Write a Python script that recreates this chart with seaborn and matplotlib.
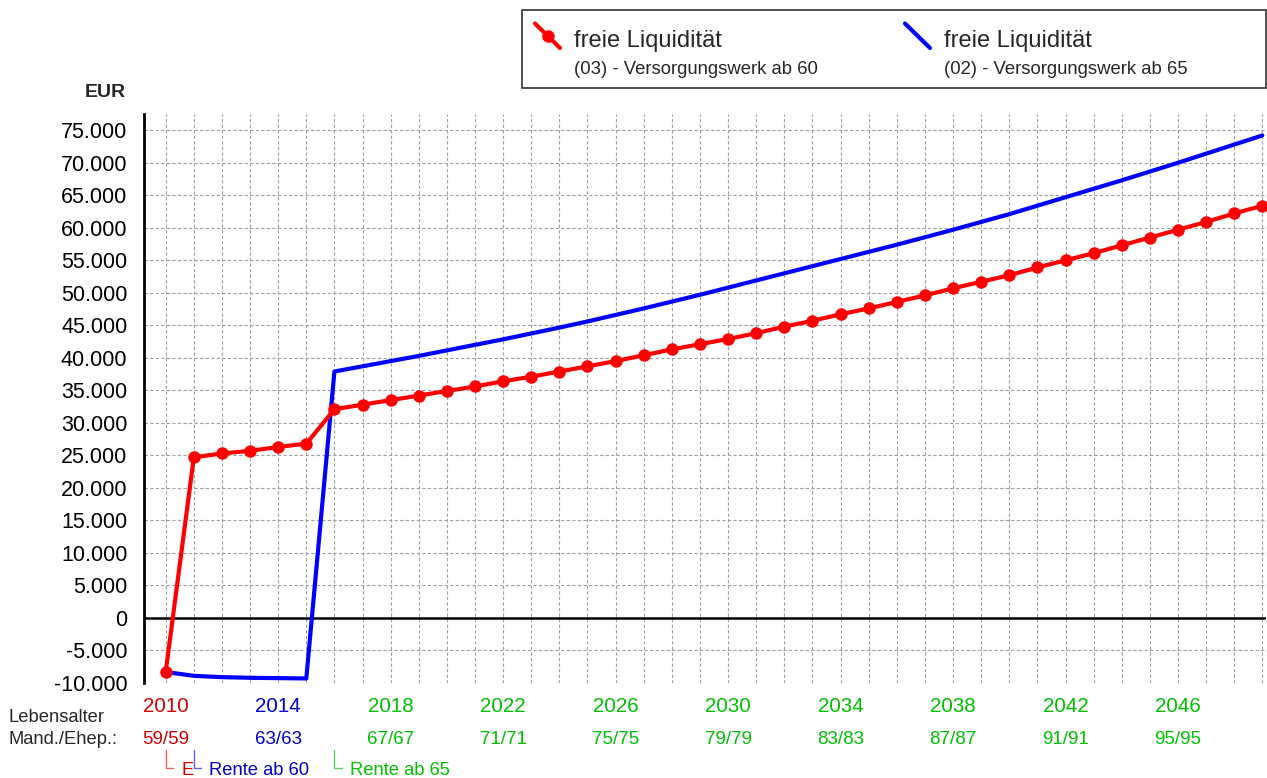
import numpy as np
import pandas as pd
import seaborn as sns
import matplotlib.pyplot as plt
from matplotlib.lines import Line2D
from matplotlib.patches import Rectangle
from matplotlib.ticker import FuncFormatter
from matplotlib import transforms

# --- data ---
years = list(range(2010, 2050))

# (03) - Versorgungswerk ab 60 (red, with markers)
red_values = [-8300, 24700, 25300, 25700, 26300, 26800, 32100, 32800, 33500, 34200,
              34900, 35600, 36400, 37100, 37900, 38700, 39500, 40400, 41300, 42100,
              42900, 43800, 44800, 45700, 46700, 47600, 48600, 49600, 50700, 51700,
              52700, 53900, 55000, 56100, 57300, 58500, 59700, 60900, 62200, 63400]

# (02) - Versorgungswerk ab 65 (blue)
blue_values = [-8300, -8900, -9100, -9200, -9250, -9300, 37900, 38700, 39500, 40300,
               41150, 42000, 42850, 43750, 44650, 45600, 46600, 47600, 48650, 49700,
               50800, 51900, 53000, 54100, 55200, 56300, 57400, 58550, 59700, 60900,
               62100, 63400, 64700, 66000, 67300, 68650, 70000, 71400, 72800, 74200]

label_years = [2010, 2014, 2018, 2022, 2026, 2030, 2034, 2038, 2042, 2046]
age_labels = ["59/59", "63/63", "67/67", "71/71", "75/75", "79/79", "83/83", "87/87", "91/91", "95/95"]
label_colors = ["#D00000", "#0000CC"] + ["#00C000"] * 8

event_years = [2010, 2011, 2016]
event_texts = ["E", "Rente ab 60", "Rente ab 65"]
event_colors = ["#D00000", "#0000CC", "#00C000"]
bracket_colors = ["#E06060", "#6060F0", "#60D060"]

series_names = ["freie Liquidität", "freie Liquidität"]
series_subtitles = ["(03) - Versorgungswerk ab 60", "(02) - Versorgungswerk ab 65"]

df = pd.DataFrame({"Jahr": years, "rot": red_values, "blau": blue_values})

# --- style ---
sns.set_theme(style="white")
plt.rcParams["font.family"] = ["Liberation Sans", "DejaVu Sans"]

W, H = 1267, 778
fig = plt.figure(figsize=(W / 100, H / 100), dpi=100)


def fx(x):
    return x / W


def fy(y):
    return 1 - y / H


ax = fig.add_axes([fx(144), fy(683), fx(1266 - 144), (683 - 114) / H])

# lines
sns.lineplot(data=df, x="Jahr", y="blau", ax=ax, color="#0000FF", linewidth=3.0,
             legend=False, zorder=4)
sns.lineplot(data=df, x="Jahr", y="rot", ax=ax, color="#FF0000", linewidth=3.0,
             marker="o", markersize=9, markeredgewidth=0, legend=False, zorder=5)

ax.set_xlim(2009.228, 2049.13)
ax.set_ylim(-10000, 77500)

# grid
ax.set_xticks(years)
ax.set_yticks(np.arange(-10000, 75001, 5000))
ax.grid(True, color="#A0A0A0", linestyle=(0, (3, 2)), linewidth=0.8)
ax.axhline(0, color="black", linewidth=1.8, zorder=3)

for side in ["top", "right", "bottom"]:
    ax.spines[side].set_visible(False)
ax.spines["left"].set_color("black")
ax.spines["left"].set_linewidth(2.0)
ax.spines["left"].set_zorder(6)

ax.yaxis.set_major_formatter(FuncFormatter(lambda v, p: f"{v:,.0f}".replace(",", ".")))
ax.tick_params(axis="y", length=0, pad=12, labelsize=15.5, labelcolor="black")
ax.tick_params(axis="x", length=0, labelbottom=False)
ax.set_xlabel("")
ax.set_ylabel("")

fig.text(fx(126), fy(97.3), "EUR", ha="right", va="baseline", fontsize=14, fontweight="bold")

# bottom year / age labels
trans = transforms.blended_transform_factory(ax.transData, fig.transFigure)
for yr, age, col in zip(label_years, age_labels, label_colors):
    ax.text(yr, fy(711.7), str(yr), transform=trans, ha="center", va="baseline",
            fontsize=14.8, color=col)
    ax.text(yr, fy(744.3), age, transform=trans, ha="center", va="baseline",
            fontsize=13.5, color=col)

fig.text(fx(8), fy(722.3), "Lebensalter", ha="left", va="baseline", fontsize=13.2)
fig.text(fx(8), fy(744.3), "Mand./Ehep.:", ha="left", va="baseline", fontsize=13.2)

# event markers below the axis
for yr, txt, col, bcol in zip(event_years, event_texts, event_colors, bracket_colors):
    ax.add_line(Line2D([yr, yr, yr + 0.27], [fy(750), fy(768.3), fy(768.3)],
                       transform=trans, color=bcol, linewidth=1.0, clip_on=False))
    ax.text(yr + 0.55, fy(775), txt, transform=trans, ha="left", va="baseline",
            fontsize=13.2, color=col)

# legend box
fig.patches.append(Rectangle((fx(521.5), fy(88)), fx(1266 - 521.5), (88 - 10) / H,
                             transform=fig.transFigure, facecolor="white",
                             edgecolor="#333333", linewidth=1.2))
icons = [(535, "#FF0000", True), (905, "#0000FF", False)]
for (x0, col, has_marker), name, sub in zip(icons, series_names, series_subtitles):
    fig.add_artist(Line2D([fx(x0), fx(x0 + 25)], [fy(23.5), fy(48)],
                          transform=fig.transFigure, color=col, linewidth=3.0))
    if has_marker:
        fig.add_artist(Line2D([fx(x0 + 13)], [fy(35.5)], transform=fig.transFigure,
                              color=col, marker="o", markersize=9, markeredgewidth=0))
    fig.text(fx(x0 + 39.5), fy(46.7), name, ha="left", va="baseline", fontsize=17)
    fig.text(fx(x0 + 39.5), fy(74), sub, ha="left", va="baseline", fontsize=13.3)

fig.savefig("out.png", dpi=100)
